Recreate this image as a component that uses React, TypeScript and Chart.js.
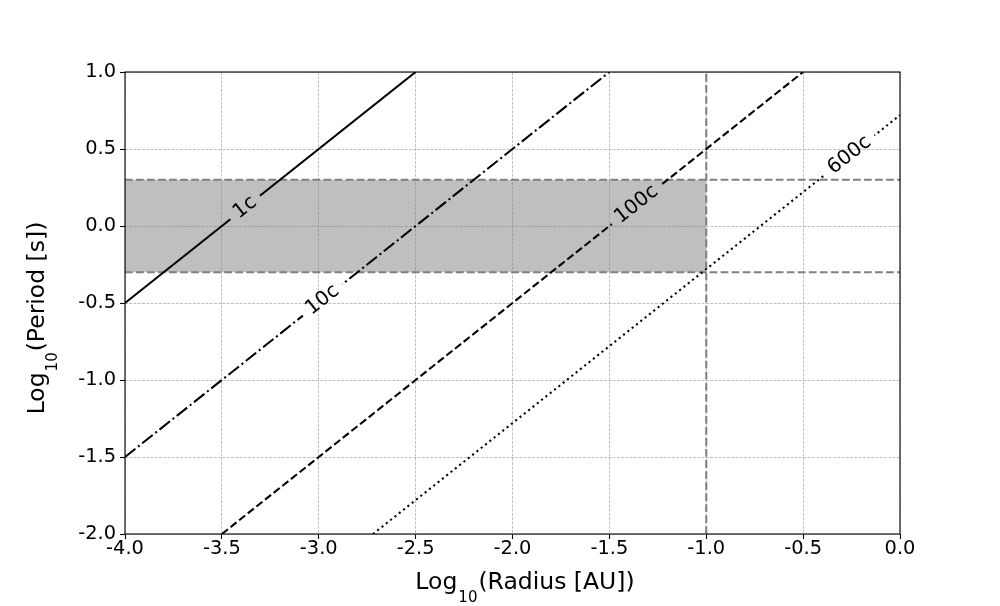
import React, { useEffect, useRef } from "react";
import { Chart, registerables } from "chart.js";

Chart.register(...registerables);

// ---------- data ----------
const xRange = [-4.0, 0.0];
const yRange = [-2.0, 1.0];
const tickStep = 0.5;

const lineNames = ["1c", "10c", "100c", "600c"];
const lineStartX = [-4.0, -4.0, -3.5, -2.72];
const lineStartY = [-0.5, -1.5, -2.0, -2.0];
const lineEndX = [-2.5, -1.5, -0.5, 0.0];
const lineEndY = [1.0, 1.0, 1.0, 0.72];
const labelX = [-3.38, -2.98, -1.36, -0.26];
const labelY = [0.12, -0.48, 0.14, 0.46];
const lineDashes = [[], [13.3, 3.33, 2.08, 3.33], [7.7, 3.33], [2.08, 3.43]];

const bandX = [-4.0, -1.0];
const bandY = [-0.3, 0.3];
const guideHX = [-4.0, 0.0];
const guideVY = [-2.0, 1.0];
const guideVX = -1.0;

const xTitleMain = "Log";
const xTitleSub = "10";
const xTitleRest = "(Radius [AU])";
const yTitleMain = "Log";
const yTitleSub = "10";
const yTitleRest = "(Period [s])";

// ---------- styles ----------
const FAMILY = "'DejaVu Sans', 'Liberation Sans', sans-serif";
const LABEL_FONT = `20px ${FAMILY}`;
const TITLE_FONT = `23.5px ${FAMILY}`;
const SUB_FONT = `15px ${FAMILY}`;

function labelGeom(chart: any, i: number) {
  const xs = chart.scales.x;
  const ys = chart.scales.y;
  const px = xs.getPixelForValue(labelX[i]);
  const py = ys.getPixelForValue(labelY[i]);
  const ang = Math.atan2(
    ys.getPixelForValue(lineEndY[i]) - ys.getPixelForValue(lineStartY[i]),
    xs.getPixelForValue(lineEndX[i]) - xs.getPixelForValue(lineStartX[i])
  );
  return { px, py, ang };
}

function drawTitle(ctx: CanvasRenderingContext2D, main: string, sub: string, rest: string) {
  ctx.font = TITLE_FONT;
  const wMain = ctx.measureText(main).width;
  const wRest = ctx.measureText(rest).width;
  ctx.font = SUB_FONT;
  const wSub = ctx.measureText(sub).width;
  const total = wMain + 1 + wSub + 1 + wRest;
  let x = -total / 2;
  ctx.textAlign = "left";
  ctx.textBaseline = "alphabetic";
  ctx.fillStyle = "#000";
  ctx.font = TITLE_FONT;
  ctx.fillText(main, x, 0);
  x += wMain + 1;
  ctx.font = SUB_FONT;
  ctx.fillText(sub, x, 12.5);
  x += wSub + 1;
  ctx.font = TITLE_FONT;
  ctx.fillText(rest, x, 0);
}

const overlayPlugin = {
  id: "overlay",
  beforeDatasetDraw(chart: any, args: any) {
    const ds = chart.data.datasets[args.index];
    if (ds.labelIndex === undefined) return;
    const ctx: CanvasRenderingContext2D = chart.ctx;
    const a = chart.chartArea;
    const { px, py, ang } = labelGeom(chart, ds.labelIndex);
    ctx.save();
    ctx.font = LABEL_FONT;
    const w = ctx.measureText(lineNames[ds.labelIndex]).width + 14;
    const h = 16;
    const c = Math.cos(ang);
    const s = Math.sin(ang);
    const pts = [
      [-w / 2, -h / 2],
      [w / 2, -h / 2],
      [w / 2, h / 2],
      [-w / 2, h / 2],
    ].map(([dx, dy]) => [px + dx * c - dy * s, py + dx * s + dy * c]);
    ctx.beginPath();
    ctx.rect(a.left - 5, a.top - 5, a.right - a.left + 10, a.bottom - a.top + 10);
    ctx.moveTo(pts[0][0], pts[0][1]);
    for (let k = 1; k < 4; k++) ctx.lineTo(pts[k][0], pts[k][1]);
    ctx.closePath();
    ctx.clip("evenodd");
  },
  afterDatasetDraw(chart: any, args: any) {
    const ds = chart.data.datasets[args.index];
    if (ds.labelIndex === undefined) return;
    chart.ctx.restore();
  },
  afterDraw(chart: any) {
    const ctx: CanvasRenderingContext2D = chart.ctx;
    const a = chart.chartArea;
    // inline labels
    for (let i = 0; i < lineNames.length; i++) {
      const { px, py, ang } = labelGeom(chart, i);
      ctx.save();
      ctx.translate(px, py);
      ctx.rotate(ang);
      ctx.font = LABEL_FONT;
      ctx.fillStyle = "#000";
      ctx.textAlign = "center";
      ctx.textBaseline = "middle";
      ctx.fillText(lineNames[i], 0, 0);
      ctx.restore();
    }
    // frame
    ctx.save();
    ctx.strokeStyle = "#000";
    ctx.lineWidth = 1.1;
    ctx.strokeRect(a.left, a.top, a.right - a.left, a.bottom - a.top);
    ctx.restore();
    // x title
    ctx.save();
    ctx.translate((a.left + a.right) / 2 + 12.5, a.bottom + 55);
    drawTitle(ctx, xTitleMain, xTitleSub, xTitleRest);
    ctx.restore();
    // y title
    ctx.save();
    ctx.translate(a.left - 81, (a.top + a.bottom) / 2 + 15);
    ctx.rotate(-Math.PI / 2);
    drawTitle(ctx, yTitleMain, yTitleSub, yTitleRest);
    ctx.restore();
  },
};

export default function App() {
  const ref = useRef<HTMLCanvasElement | null>(null);

  useEffect(() => {
    if (!ref.current) return;
    Chart.defaults.font.family = FAMILY;

    const cLines = lineNames.map((name, i) => ({
      label: name,
      labelIndex: i,
      data: [
        { x: lineStartX[i], y: lineStartY[i] },
        { x: lineEndX[i], y: lineEndY[i] },
      ],
      borderColor: "#000",
      borderWidth: 2.08,
      borderDash: lineDashes[i],
      pointRadius: 0,
      showLine: true,
      fill: false,
      order: 0,
    }));

    const guideStyle = {
      borderColor: "#808080",
      borderWidth: 2.08,
      borderDash: [7.7, 3.33],
      pointRadius: 0,
      showLine: true,
      fill: false,
      order: 1,
    };

    const guides = [
      {
        label: "upper",
        data: [
          { x: guideHX[0], y: bandY[1] },
          { x: guideHX[1], y: bandY[1] },
        ],
        ...guideStyle,
      },
      {
        label: "lower",
        data: [
          { x: guideHX[0], y: bandY[0] },
          { x: guideHX[1], y: bandY[0] },
        ],
        ...guideStyle,
      },
      {
        label: "vertical",
        data: [
          { x: guideVX, y: guideVY[0] },
          { x: guideVX, y: guideVY[1] },
        ],
        ...guideStyle,
      },
    ];

    const band = {
      label: "band",
      data: [
        { x: bandX[0], y: bandY[1] },
        { x: bandX[1], y: bandY[1] },
      ],
      borderWidth: 0,
      borderColor: "rgba(0,0,0,0)",
      backgroundColor: "rgba(128,128,128,0.5)",
      pointRadius: 0,
      showLine: true,
      fill: { value: bandY[0] },
      order: 2,
    };

    const tickFont = { family: FAMILY, size: 19.4, lineHeight: 1 };

    const chart = new Chart(ref.current, {
      type: "scatter",
      data: { datasets: [...cLines, ...guides, band] as any },
      options: {
        animation: false,
        responsive: false,
        maintainAspectRatio: false,
        layout: { padding: { left: 0, right: 100, top: 72, bottom: 0 } },
        plugins: {
          legend: { display: false },
          tooltip: { enabled: false },
          title: { display: false },
        },
        scales: {
          x: {
            type: "linear",
            min: xRange[0],
            max: xRange[1],
            afterFit: (scale: any) => {
              scale.height = 72;
            },
            ticks: {
              stepSize: tickStep,
              color: "#000",
              font: tickFont,
              padding: 0,
              maxRotation: 0,
              callback: (v: any) => Number(v).toFixed(1),
            },
            grid: {
              color: "#b0b0b0",
              lineWidth: 0.8,
              tickColor: "#000",
              tickLength: 5,
              tickWidth: 1.1,
            },
            border: { display: false, dash: [2.96, 1.28] },
          },
          y: {
            type: "linear",
            min: yRange[0],
            max: yRange[1],
            afterFit: (scale: any) => {
              scale.width = 125;
            },
            ticks: {
              stepSize: tickStep,
              color: "#000",
              font: tickFont,
              padding: 4,
              callback: (v: any) => Number(v).toFixed(1),
            },
            grid: {
              color: "#b0b0b0",
              lineWidth: 0.8,
              tickColor: "#000",
              tickLength: 5,
              tickWidth: 1.1,
            },
            border: { display: false, dash: [2.96, 1.28] },
          },
        },
      } as any,
      plugins: [overlayPlugin],
    });

    return () => chart.destroy();
  }, []);

  return (
    <div style={{ position: "fixed", left: 0, top: 0, width: 1000, height: 606, background: "#fff" }}>
      <canvas ref={ref} width={1000} height={606} />
    </div>
  );
}
